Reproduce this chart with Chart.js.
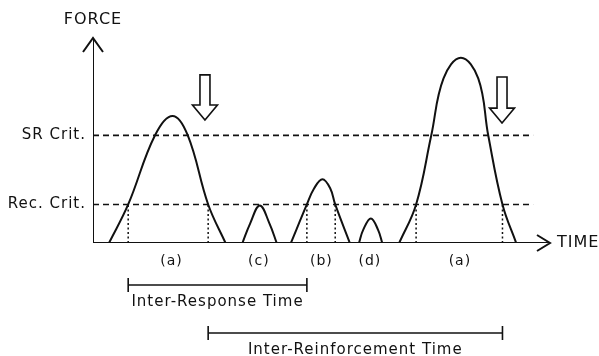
<!DOCTYPE html>
<html><head><meta charset="utf-8">
<script src="https://cdn.jsdelivr.net/npm/chart.js@4"></script>
<style>html,body{margin:0;padding:0;background:#fff}#wrap{width:599px;height:356px}</style>
</head><body><div id="wrap"><canvas id="c"></canvas></div>
<script>
// Data (time units 0..100 on x, force units 0..100 on y)
const humpNames = ['(a)', '(c)', '(b)', '(d)', '(a)'];
const humpA1 = [{x:3.5,y:0},{x:7.7,y:18.8},{x:13.6,y:52.7},{x:17.4,y:62.0},{x:20.7,y:52.7},{x:25.2,y:18.8},{x:29.0,y:0}];
const humpC  = [{x:32.7,y:0},{x:34.4,y:9.6},{x:36.5,y:18.3},{x:38.6,y:9.6},{x:40.2,y:0}];
const humpB  = [{x:43.3,y:0},{x:46.8,y:18.8},{x:48.4,y:26.7},{x:50.2,y:31.1},{x:51.9,y:26.7},{x:53.0,y:18.8},{x:56.2,y:0}];
const humpD  = [{x:58.2,y:0},{x:59.1,y:6.3},{x:60.8,y:12.0},{x:62.4,y:6.3},{x:63.3,y:0}];
const humpA2 = [{x:67.0,y:0},{x:70.7,y:18.8},{x:74.0,y:52.3},{x:76.7,y:80.3},{x:80.5,y:90.4},
                {x:84.3,y:80.3},{x:86.5,y:52.3},{x:89.6,y:18.8},{x:92.6,y:0}];
const humps = [humpA1, humpC, humpB, humpD, humpA2];

const criterionNames = ['SR Crit.', 'Rec. Crit.'];
const criterionValues = [52.5, 18.8];
const criterionEnd = 96.3;

const dottedX = [7.7, 25.2, 46.8, 53.0, 70.7, 89.6];
const dottedTop = 18.8;

const arrowX = [24.5, 89.5];
const arrowTop = [82, 81];
const arrowTip = [60, 58.5];

const intervalNames = ['Inter-Response Time', 'Inter-Reinforcement Time'];
const intervalStart = [7.7, 25.2];
const intervalEnd = [46.8, 89.6];
const intervalLevel = [-20.5, -43.9];

const axisNames = ['FORCE', 'TIME'];

const INK = '#111';
const FONT = '"DejaVu Sans", sans-serif';

const datasets = [];
// axes
datasets.push({data:[{x:0,y:0},{x:0,y:100}], borderColor:INK, borderWidth:2, pointRadius:0});
datasets.push({data:[{x:0,y:0},{x:100,y:0}], borderColor:INK, borderWidth:2, pointRadius:0});
// criteria
criterionValues.forEach(v => datasets.push({data:[{x:0,y:v},{x:criterionEnd,y:v}], borderColor:INK, borderWidth:1.6, borderDash:[6,4], pointRadius:0}));
// dotted verticals
dottedX.forEach(v => datasets.push({data:[{x:v,y:0},{x:v,y:dottedTop}], borderColor:INK, borderWidth:1.5, borderDash:[2,2.5], pointRadius:0}));
// humps
humps.forEach(h => datasets.push({data:h, borderColor:INK, borderWidth:2, pointRadius:0, tension:0.4}));
// intervals
intervalStart.forEach((s,i) => datasets.push({data:[{x:s,y:intervalLevel[i]},{x:intervalEnd[i],y:intervalLevel[i]}], borderColor:INK, borderWidth:1.6, clip:false, pointRadius:0}));

const decor = {
  id:'decor',
  afterDatasetsDraw(chart){
    const {ctx, scales:{x, y}} = chart;
    ctx.save();
    ctx.strokeStyle = INK; ctx.fillStyle = INK; ctx.lineWidth = 2;
    // axis arrowheads
    const ox = x.getPixelForValue(0), oy = y.getPixelForValue(0);
    const ty = y.getPixelForValue(100), tx = x.getPixelForValue(100);
    ctx.beginPath();
    ctx.moveTo(ox-10, ty+14); ctx.lineTo(ox, ty); ctx.lineTo(ox+10, ty+14);
    ctx.moveTo(tx-13, oy-8); ctx.lineTo(tx, oy); ctx.lineTo(tx-13, oy+8);
    ctx.stroke();
    // interval end ticks
    ctx.lineWidth = 1.6;
    ctx.beginPath();
    intervalStart.forEach((s,i) => {
      const ly = y.getPixelForValue(intervalLevel[i]);
      [s, intervalEnd[i]].forEach(v => { const px = x.getPixelForValue(v); ctx.moveTo(px, ly-7); ctx.lineTo(px, ly+7); });
    });
    ctx.stroke();
    // hollow down arrows
    arrowX.forEach((ax,i) => {
      const px = x.getPixelForValue(ax), t = y.getPixelForValue(arrowTop[i]), b = y.getPixelForValue(arrowTip[i]);
      const hh = 15, sw = 5, hw = 12.5;
      ctx.beginPath();
      ctx.moveTo(px-sw, t); ctx.lineTo(px+sw, t); ctx.lineTo(px+sw, b-hh); ctx.lineTo(px+hw, b-hh);
      ctx.lineTo(px, b); ctx.lineTo(px-hw, b-hh); ctx.lineTo(px-sw, b-hh); ctx.closePath();
      ctx.stroke();
    });
    // texts
    ctx.letterSpacing = '1px';
    ctx.font = '16px ' + FONT;
    ctx.textBaseline = 'middle';
    ctx.textAlign = 'center';
    ctx.fillText(axisNames[0], ox, 20);
    ctx.textAlign = 'left';
    ctx.fillText(axisNames[1], tx + 7, oy);
    ctx.textAlign = 'right';
    ctx.font = '15px ' + FONT;
    criterionValues.forEach((v,i) => ctx.fillText(criterionNames[i], ox - 7, y.getPixelForValue(v)));
    ctx.font = '14px ' + FONT;
    ctx.textAlign = 'center';
    humps.forEach((h,i) => {
      let pk = h.reduce((a,b) => b.y > a.y ? b : a);
      ctx.fillText(humpNames[i], x.getPixelForValue(pk.x) - 1, oy + 18);
    });
    ctx.font = '15px ' + FONT;
    intervalNames.forEach((n,i) => {
      const cx = (x.getPixelForValue(intervalStart[i]) + x.getPixelForValue(intervalEnd[i]))/2;
      ctx.fillText(n, cx, y.getPixelForValue(intervalLevel[i]) + 17);
    });
    ctx.restore();
  }
};

new Chart(document.getElementById('c'), {
  type:'line',
  data:{datasets},
  options:{
    responsive:true, maintainAspectRatio:false, animation:false, devicePixelRatio:1,
    layout:{padding:{left:93, right:49, top:38, bottom:113}},
    plugins:{legend:{display:false}, tooltip:{enabled:false}},
    scales:{
      x:{type:'linear', min:0, max:100, display:false},
      y:{type:'linear', min:0, max:100, display:false}
    }
  },
  plugins:[decor]
});
</script></body></html>
